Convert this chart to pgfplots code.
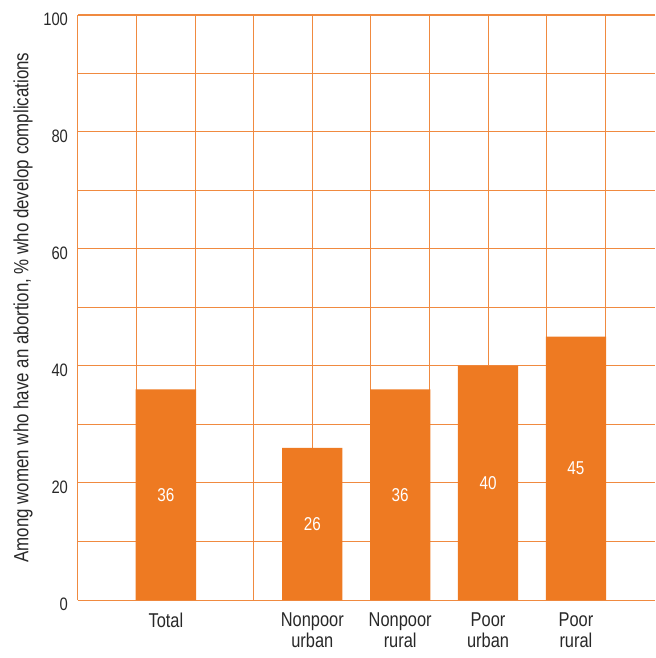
\documentclass[border=0pt]{standalone}
\usepackage{pgfplots}
\pgfplotsset{compat=1.18}
\usepackage{pgfplotstable}
\usepackage{fontspec}
\setmainfont{Liberation Sans}[FakeStretch=0.82]

\definecolor{barorange}{RGB}{238,122,34}
\definecolor{gridorange}{RGB}{240,138,64}
\definecolor{labelgray}{RGB}{40,40,40}

% Share of women who develop complications after an abortion (%)
\pgfplotstableread{
x    y
1.5  36
4.0  26
5.5  36
7.0  40
8.5  45
}\complications

\begin{document}
\begin{tikzpicture}
\begin{axis}[
  at={(0,0)}, anchor=south west,
  scale only axis,
  width=288.5pt, height=292.5pt,
  xmin=0, xmax=9.85,
  ymin=0, ymax=100,
  axis line style={draw=none},
  xtick={0,1,...,9},
  xticklabels={},
  ytick={0,20,...,100},
  minor ytick={10,30,...,90},
  grid=both,
  major grid style={draw=gridorange, line width=0.5pt},
  minor grid style={draw=gridorange, line width=0.5pt},
  major tick length=0pt, minor tick length=0pt,
  extra x ticks={1.5,4,5.5,7,8.5},
  extra x tick labels={Total,{Nonpoor\\urban},{Nonpoor\\rural},{Poor\\urban},{Poor\\rural}},
  extra x tick style={grid=none, major tick length=0pt},
  xticklabel style={font=\fontsize{10}{10.5}\selectfont, text=labelgray, align=center, anchor=north, yshift=-3pt},
  yticklabel style={font=\fontsize{9}{10}\selectfont, text=labelgray, anchor=east, xshift=-1.5pt, yshift=-2pt},
  /pgf/number format/assume math mode=true,
  ylabel={Among women who have an abortion, \% who develop complications},
  ylabel style={font=\fontsize{10.3}{11}\selectfont, text=labelgray, at={(axis description cs:-0.0953,0.5)}, anchor=center, rotate=0},
  clip=false,
  axis on top=false,
]
  % heavier rule along the top of the frame
  \draw[gridorange, line width=1pt] (axis cs:0,100) -- (axis cs:9.85,100);
  \draw[gridorange, line width=0.5pt] (axis cs:0,0) -- (axis cs:9.85,0);
  \draw[gridorange, line width=0.5pt] (axis cs:0,0) -- (axis cs:0,100);

  \addplot[ybar, bar width=1.03, fill=barorange, draw=none]
    table[x=x, y=y] {\complications};

  % value printed halfway up each bar
  \addplot[only marks, mark=none,
    nodes near coords,
    point meta=explicit,
    every node near coord/.append style={anchor=center, text=white,
      font=\fontsize{9.3}{10}\selectfont},
    /pgf/number format/assume math mode=true]
    table[x=x, y expr=\thisrow{y}/2, meta=y] {\complications};
\end{axis}
\pgfresetboundingbox
\useasboundingbox (-39pt,-29pt) rectangle (288.5pt,300pt);
\end{tikzpicture}
\end{document}
